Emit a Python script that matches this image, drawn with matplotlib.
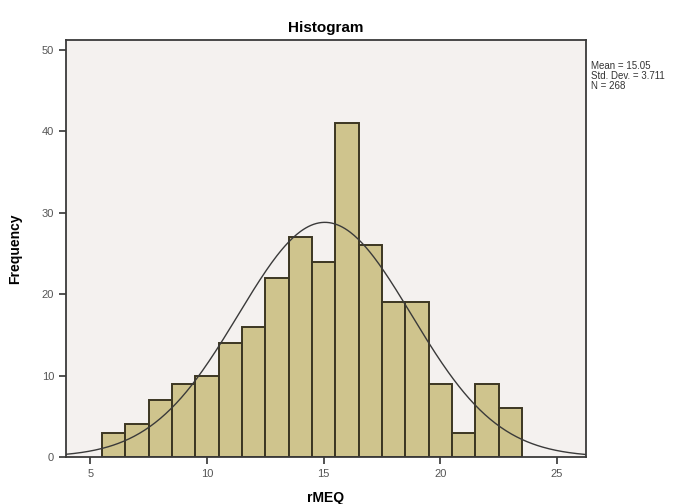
import numpy as np
import matplotlib.pyplot as plt

plt.rcParams.update({"font.family": ["Liberation Sans", "DejaVu Sans"]})

# bin centres (width 1) and counts
bin_centers = [6, 7, 8, 9, 10, 11, 12, 13, 14, 15, 16, 17, 18, 19, 20, 21, 22, 23]
counts = [3, 4, 7, 9, 10, 14, 16, 22, 27, 24, 41, 26, 19, 19, 9, 3, 9, 6]
mean = 15.05
std_dev = 3.711
n = 268
x_ticks = [5, 10, 15, 20, 25]
y_ticks = [0, 10, 20, 30, 40, 50]

fig = plt.figure(figsize=(6.94, 5.04), dpi=100)
ax = fig.add_axes([0.0951, 0.0933, 0.7493, 0.8273])
ax.set_facecolor("#f4f1ef")

ax.bar(bin_centers, counts, width=1.0, color="#cfc48d", edgecolor="#3b3622", linewidth=1.4, zorder=2)

# fitted normal curve scaled to counts (bin width 1)
xs = np.linspace(3.9, 26.3, 400)
ys = n / (std_dev * np.sqrt(2 * np.pi)) * np.exp(-0.5 * ((xs - mean) / std_dev) ** 2)
ax.plot(xs, ys, color="#3a3a3a", linewidth=1.0, zorder=3)

ax.set_xlim(3.95, 26.25)
ax.set_ylim(0, 51.2)
ax.set_xticks(x_ticks)
ax.set_yticks(y_ticks)
ax.tick_params(direction="out", length=5, width=1.2, colors="#333333", labelsize=8, labelcolor="#555555")
for s in ax.spines.values():
    s.set_color("#3a3a3a")
    s.set_linewidth(1.3)

ax.set_title("Histogram", fontsize=11, fontweight="bold", pad=6)
ax.set_xlabel("rMEQ", fontsize=10, fontweight="bold", labelpad=9)
ax.set_ylabel("Frequency", fontsize=10, fontweight="bold", labelpad=14)

fig.text(0.851, 0.878, f"Mean = {mean:.2f}\nStd. Dev. = {std_dev:.3f}\nN = {n}",
         fontsize=7, va="top", ha="left", color="#333333", linespacing=1.0)

fig.savefig("out.png", dpi=100)
